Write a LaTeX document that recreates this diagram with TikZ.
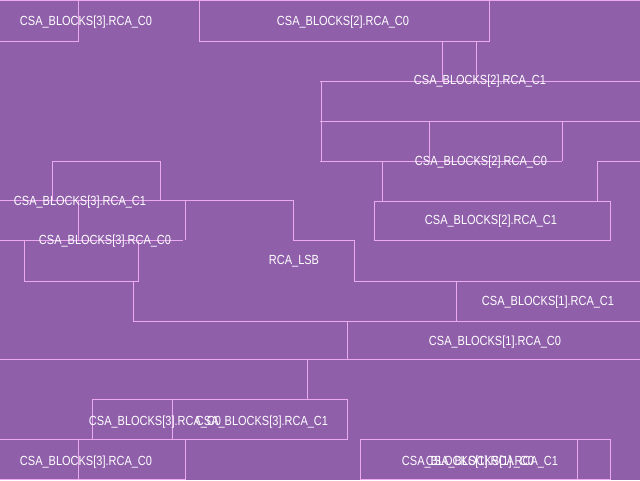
\documentclass[tikz,border=0pt]{standalone}
\usepackage{fontspec}
\setmainfont{Liberation Sans}
\usepackage{graphicx}
\definecolor{bgpurple}{RGB}{143,95,170}
\definecolor{edgepink}{RGB}{235,170,240}
\newcommand{\lbtext}[1]{\scalebox{1}[1.2]{#1}}
\tikzset{
  lbl/.style={text=white, font=\fontsize{11}{11}\selectfont, inner sep=0pt},
  cell/.style={draw=edgepink, line width=1pt}
}
\begin{document}
\begin{tikzpicture}[x=1pt,y=-1pt]
\useasboundingbox (0,0) rectangle (640,480);
\fill[bgpurple] (0,0) rectangle (640,480);
% placement outlines
\draw[cell] (0,0.5) -- (640,0.5);
\draw[cell] (0,41) -- (78,41) -- (78,0);
\draw[cell] (199,0) -- (199,41) -- (489,41) -- (489,0);
\draw[cell] (442,41) -- (442,81);
\draw[cell] (476,41) -- (476,81);
\draw[cell] (320,81) -- (640,81);
\draw[cell] (321,81) -- (321,161);
\draw[cell] (320,121) -- (640,121);
\draw[cell] (429,121) -- (429,161);
\draw[cell] (562,121) -- (562,161);
\draw[cell] (320,161) -- (562,161);
\draw[cell] (597,161) -- (640,161);
\draw[cell] (382,161) -- (382,201);
\draw[cell] (597,161) -- (597,201);
\draw[cell] (374,201) rectangle (610,240);
\draw[cell] (52,201) -- (52,161) -- (160,161) -- (160,201);
\draw[cell] (0,200) -- (293,200);
\draw[cell] (78,200) -- (78,240);
\draw[cell] (185,200) -- (185,240);
\draw[cell] (293,200) -- (293,240);
\draw[cell] (0,240) -- (183,240);
\draw[cell] (293,240) -- (354,240);
\draw[cell] (24,240) -- (24,281) -- (138,281) -- (138,240);
\draw[cell] (133,281) -- (133,321);
\draw[cell] (354,240) -- (354,281) -- (640,281);
\draw[cell] (456,281) -- (456,321);
\draw[cell] (133,321) -- (640,321);
\draw[cell] (347,321) -- (347,359);
\draw[cell] (0,359) -- (640,359);
\draw[cell] (307,359) -- (307,399);
\draw[cell] (92,399) rectangle (347,439);
\draw[cell] (172,399) -- (172,439);
\draw[cell] (0,439) -- (347,439);
\draw[cell] (78,439) -- (78,480);
\draw[cell] (185,439) -- (185,480);
\draw[cell] (0,479) -- (185,479);
\draw[cell] (360,439) rectangle (610,479);
\draw[cell] (577,439) -- (577,479);
% labels
\node[lbl] (t1) at (86,22) {\lbtext{CSA\_BLOCKS[3].RCA\_C0}};
\node[lbl] (t2) at (343,22) {\lbtext{CSA\_BLOCKS[2].RCA\_C0}};
\node[lbl] (t3) at (480,81) {\lbtext{CSA\_BLOCKS[2].RCA\_C1}};
\node[lbl] (t4) at (481,162) {\lbtext{CSA\_BLOCKS[2].RCA\_C0}};
\node[lbl] (t5) at (80,202) {\lbtext{CSA\_BLOCKS[3].RCA\_C1}};
\node[lbl] (t6) at (491,221) {\lbtext{CSA\_BLOCKS[2].RCA\_C1}};
\node[lbl] (t7) at (105,241) {\lbtext{CSA\_BLOCKS[3].RCA\_C0}};
\node[lbl] (t8) at (294,261) {\lbtext{RCA\_LSB}};
\node[lbl] (t9) at (548,302) {\lbtext{CSA\_BLOCKS[1].RCA\_C1}};
\node[lbl] (t10) at (495,342) {\lbtext{CSA\_BLOCKS[1].RCA\_C0}};
\node[lbl] (t11) at (155,422) {\lbtext{CSA\_BLOCKS[3].RCA\_C0}};
\node[lbl] (t12) at (262,422) {\lbtext{CSA\_BLOCKS[3].RCA\_C1}};
\node[lbl] (t13) at (86,462) {\lbtext{CSA\_BLOCKS[3].RCA\_C0}};
\node[lbl] (t14) at (468,462) {\lbtext{CSA\_BLOCKS[1].RCA\_C0}};
\node[lbl] (t15) at (492,462) {\lbtext{CSA\_BLOCKS[1].RCA\_C1}};
\end{tikzpicture}
\end{document}
